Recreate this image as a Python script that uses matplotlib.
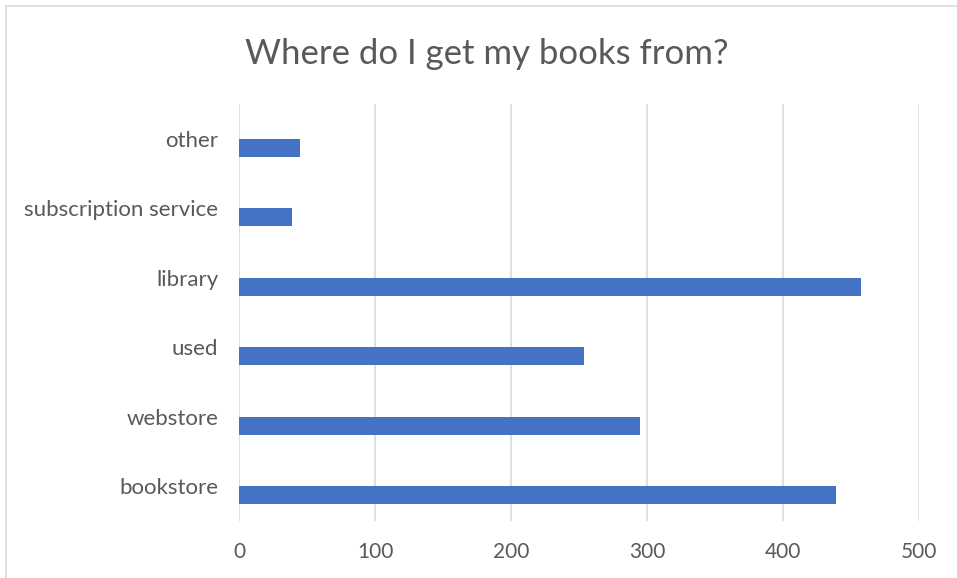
import matplotlib.pyplot as plt
from matplotlib.patches import Rectangle

# where the books come from, bottom to top as drawn
sources = ['bookstore', 'webstore', 'used', 'library', 'subscription service', 'other']
counts = [439, 295, 254, 457, 39, 45]
ticks = [0, 100, 200, 300, 400, 500]

plt.rcParams['font.family'] = ['Lato', 'DejaVu Sans']

fig = plt.figure(figsize=(9.57, 5.78), dpi=100)
ax = fig.add_axes([0.2497, 0.0986, 0.7106, 0.7214])

# light frame round the whole chart
fig.patches.append(Rectangle((6 / 957, -0.01), 1.0, (578 - 6) / 578 + 0.01,
                             transform=fig.transFigure, fill=False,
                             edgecolor='#d9d9d9', linewidth=1.2))

pos = [i - 0.13 for i in range(len(sources))]
ax.barh(pos, counts, height=0.26, color='#4472c4', zorder=3)

ax.set_xlim(0, 500)
ax.set_ylim(-0.5, len(sources) - 0.5)
ax.set_xticks(ticks)
ax.set_yticks(range(len(sources)))
ax.set_yticklabels(sources)
ax.grid(axis='x', color='#d9d9d9', linewidth=1.2, zorder=0)
for s in ax.spines.values():
    s.set_visible(False)
ax.tick_params(length=0, labelsize=15, labelcolor='#595959')
ax.tick_params(axis='x', pad=15)
ax.tick_params(axis='y', labelsize=16, pad=15)

fig.text(0.509, 0.907, 'Where do I get my books from?', ha='center', va='center',
         fontsize=25, color='#595959')

fig.savefig('out.png', dpi=100)
